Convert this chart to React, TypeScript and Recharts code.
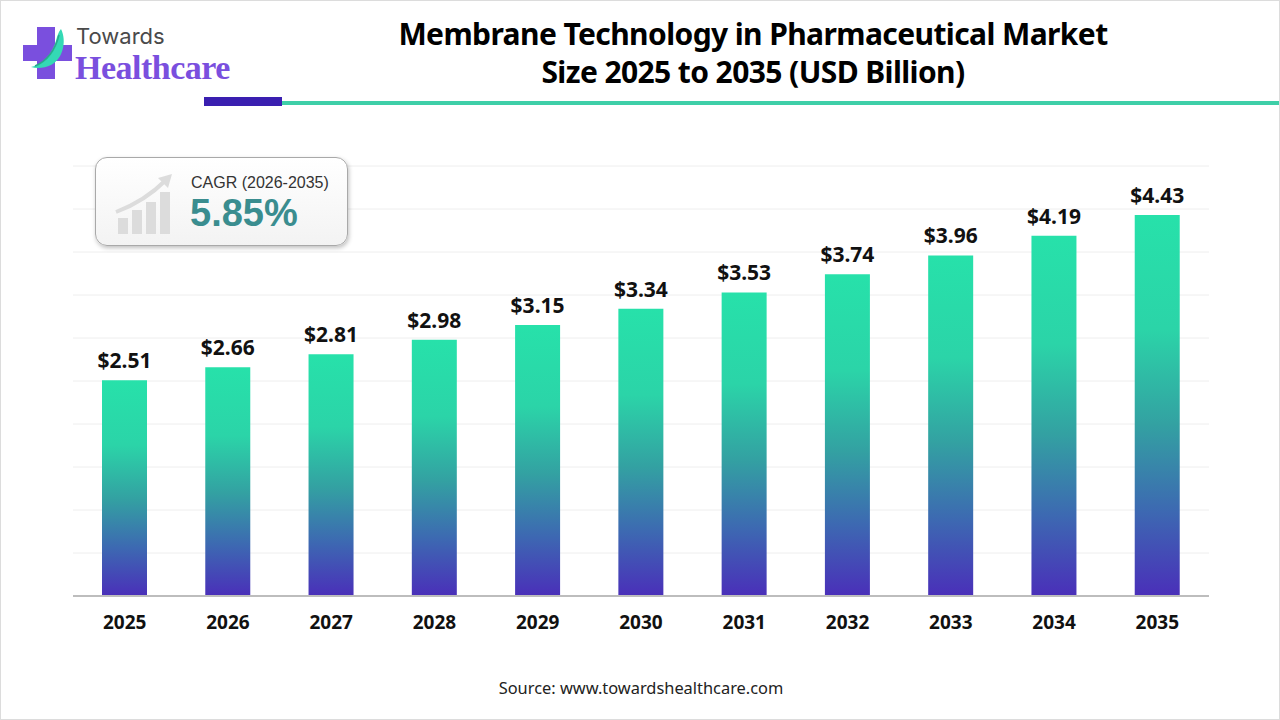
import React from "react";
import { BarChart, Bar, XAxis, YAxis, CartesianGrid, LabelList } from "recharts";

const years = ["2025", "2026", "2027", "2028", "2029", "2030", "2031", "2032", "2033", "2034", "2035"];
const marketSize = [2.51, 2.66, 2.81, 2.98, 3.15, 3.34, 3.53, 3.74, 3.96, 4.19, 4.43];
const yTicks = [0, 0.5, 1, 1.5, 2, 2.5, 3, 3.5, 4, 4.5, 5];

const FONT = "'Noto Sans', 'Open Sans', sans-serif";

const data = years.map((year, i) => ({ year, value: marketSize[i] }));

const Logo = () => (
  <svg width={280} height={90} style={{ position: "absolute", left: 0, top: 0 }}>
    {/* purple cross */}
    <path d="M36 26 H54 V44 H71 V60 H54 V78 H36 V60 H22 V44 H36 Z" fill="#7a4fde" />
    {/* teal leaf */}
    <path d="M30 66 C40 64 52 54 56 36 C58 30 60 28 60 28 C66 40 62 58 50 64 C44 67 36 68 30 66 Z" fill="#34d9b5" />
    <path d="M34 65 C46 60 54 50 58 34" stroke="#2aa88c" strokeWidth={1.5} fill="none" />
    <text x={75} y={43} fontFamily="Inter, 'Open Sans', sans-serif" fontSize={22} fill="#4a4a4a">
      Towards
    </text>
    <text x={74} y={78} fontFamily="'Liberation Serif', serif" fontWeight="bold" fontSize={34} fill="#7a4fde" letterSpacing={-0.5}>
      Healthcare
    </text>
  </svg>
);

const CagrBox = () => (
  <div
    style={{
      position: "absolute",
      left: 94,
      top: 156,
      width: 253,
      height: 89,
      borderRadius: 12,
      border: "1.5px solid #a9a9a9",
      background: "linear-gradient(#ffffff, #f3f3f3)",
      boxShadow: "1px 2px 4px rgba(0,0,0,0.25)",
      boxSizing: "border-box",
    }}
  >
    <svg width={80} height={80} style={{ position: "absolute", left: 14, top: 8 }}>
      <rect x={8} y={52} width={10} height={16} fill="#dcdcdc" />
      <rect x={22} y={44} width={10} height={24} fill="#dcdcdc" />
      <rect x={36} y={36} width={10} height={32} fill="#dcdcdc" />
      <rect x={50} y={26} width={10} height={42} fill="#dcdcdc" />
      <path d="M6 46 C22 40 40 30 56 14" stroke="#dcdcdc" strokeWidth={4} fill="none" />
      <path d="M48 12 L62 8 L58 22 Z" fill="#dcdcdc" />
    </svg>
    <div style={{ position: "absolute", left: 95, top: 16, fontFamily: "'Liberation Sans', Arial, sans-serif", fontSize: 16, color: "#333" }}>
      CAGR (2026-2035)
    </div>
    <div style={{ position: "absolute", left: 94, top: 34, fontFamily: "'Liberation Sans', Arial, sans-serif", fontSize: 38, fontWeight: "bold", color: "#3a8d8f" }}>
      5.85%
    </div>
  </div>
);

export default function App() {
  return (
    <div
      style={{
        position: "fixed",
        left: 0,
        top: 0,
        width: 1280,
        height: 720,
        background: "#fff",
        overflow: "hidden",
        boxSizing: "border-box",
        border: "1px solid #dcdcdc",
      }}
    >
      <Logo />
      <div
        style={{
          position: "absolute",
          left: 300,
          width: 904,
          top: 14,
          textAlign: "center",
          fontFamily: FONT,
          fontWeight: "bold",
          fontSize: 30,
          lineHeight: "38px",
          color: "#000",
          letterSpacing: -0.6,
        }}
      >
        Membrane Technology in Pharmaceutical Market
        <br />
        Size 2025 to 2035 (USD Billion)
      </div>
      <div style={{ position: "absolute", left: 203, top: 96, width: 78, height: 9, background: "#3a1fb0" }} />
      <div style={{ position: "absolute", left: 281, top: 100, width: 1000, height: 4, background: "#3ecfa8" }} />

      <div style={{ position: "absolute", left: 0, top: 0 }}>
        <BarChart
          width={1280}
          height={720}
          data={data}
          margin={{ top: 165, right: 72, bottom: 90, left: 72 }}
          barSize={45}
        >
          <defs>
            <linearGradient id="barGrad" x1="0" y1="0" x2="0" y2="1">
              <stop offset="0%" stopColor="#27e1aa" />
              <stop offset="30%" stopColor="#2bd4a8" />
              <stop offset="55%" stopColor="#33a1a2" />
              <stop offset="78%" stopColor="#3d68b2" />
              <stop offset="100%" stopColor="#4a2fb9" />
            </linearGradient>
          </defs>
          <CartesianGrid horizontal vertical={false} stroke="#eeeeee" />
          <YAxis hide domain={[0, 5]} ticks={yTicks} />
          <XAxis
            dataKey="year"
            axisLine={{ stroke: "#bdbdbd", strokeWidth: 2 }}
            tickLine={false}
            height={35}
            tick={{ fontFamily: FONT, fontWeight: "bold", fontSize: 19, fill: "#111" }}
            dy={12}
          />
          <Bar dataKey="value" fill="url(#barGrad)" isAnimationActive={false}>
            <LabelList
              dataKey="value"
              position="top"
              offset={12}
              formatter={(v: number) => `$${v.toFixed(2)}`}
              style={{ fontFamily: FONT, fontWeight: "bold", fontSize: 21, fill: "#111" }}
            />
          </Bar>
        </BarChart>
      </div>

      <div
        style={{
          position: "absolute",
          left: 0,
          width: 1280,
          top: 675,
          textAlign: "center",
          fontFamily: FONT,
          fontSize: 16.4,
          color: "#222",
        }}
      >
        Source: www.towardshealthcare.com
      </div>
      <CagrBox />
    </div>
  );
}
